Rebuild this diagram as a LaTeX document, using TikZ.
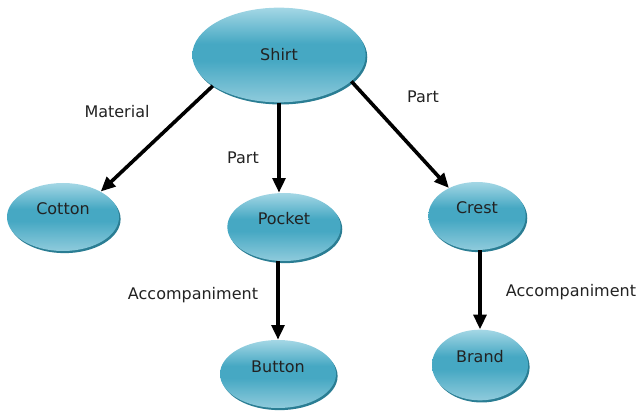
\documentclass[tikz,border=0pt]{standalone}
\usepackage{fontspec}
\setmainfont{DejaVu Sans}
\usetikzlibrary{shapes, arrows.meta, shadows}

\definecolor{bluetop}{HTML}{A4D7E5}
\definecolor{bluemid}{HTML}{46A8C3}
\definecolor{bluebot}{HTML}{8FCBDC}
\definecolor{bluerim}{HTML}{2A7D93}
\definecolor{textgray}{HTML}{222222}

\pgfdeclareverticalshading{bubble}{100bp}{color(0bp)=(bluebot); color(25bp)=(bluebot);
  color(47bp)=(bluemid); color(56bp)=(bluemid); color(75bp)=(bluetop); color(100bp)=(bluetop)}

\begin{document}
\begin{tikzpicture}[x=0.75pt, y=-0.75pt,
  every node/.style={font=\fontsize{12}{14}\selectfont, text=textgray},
  concept/.style={ellipse, inner sep=0pt, shade, shading=bubble,
    drop shadow={shadow xshift=1.2pt, shadow yshift=-1.6pt, fill=bluerim, opacity=1}},
  lowtext/.style={text height=9pt, text depth=12pt},
  link/.style={-{Triangle[length=11pt,width=9.5pt]}, line width=2.7pt, black}]
\useasboundingbox (0,0) rectangle (636,417);
% Concepts
\node[concept, minimum width=130pt, minimum height=71pt] (Shirt) at (279,55) {Shirt};
\node[concept, lowtext, minimum width=84pt, minimum height=51pt] (Cotton) at (63,217) {Cotton};
\node[concept, lowtext, minimum width=85pt, minimum height=51pt] (Pocket) at (284,227) {Pocket};
\node[concept, lowtext, minimum width=73pt, minimum height=51pt] (Crest) at (477,216) {Crest};
\node[concept, lowtext, minimum width=87pt, minimum height=51pt] (Button) at (278,374) {Button};
\node[concept, lowtext, minimum width=72pt, minimum height=53pt] (Brand) at (480,365) {Brand};
% Relations
\node (Material) at (117,112) {Material};
\node (PartA) at (243,158) {Part};
\node (PartB) at (423,97) {Part};
\node (AccompA) at (193,295) {Accompaniment};
\node (AccompB) at (571,292) {Accompaniment};
% Arrows
\draw[link] (Shirt.205) -- (Cotton.34);
\draw[link] (Shirt.south) -- (Shirt.south |- Pocket.north);
\draw[link] (Shirt.-20) -- (Crest.135);
\draw[link] (Button.north |- Pocket.south) -- (Button.north);
\draw[link] (Brand.north |- Crest.south) -- (Brand.north);
\end{tikzpicture}
\end{document}
